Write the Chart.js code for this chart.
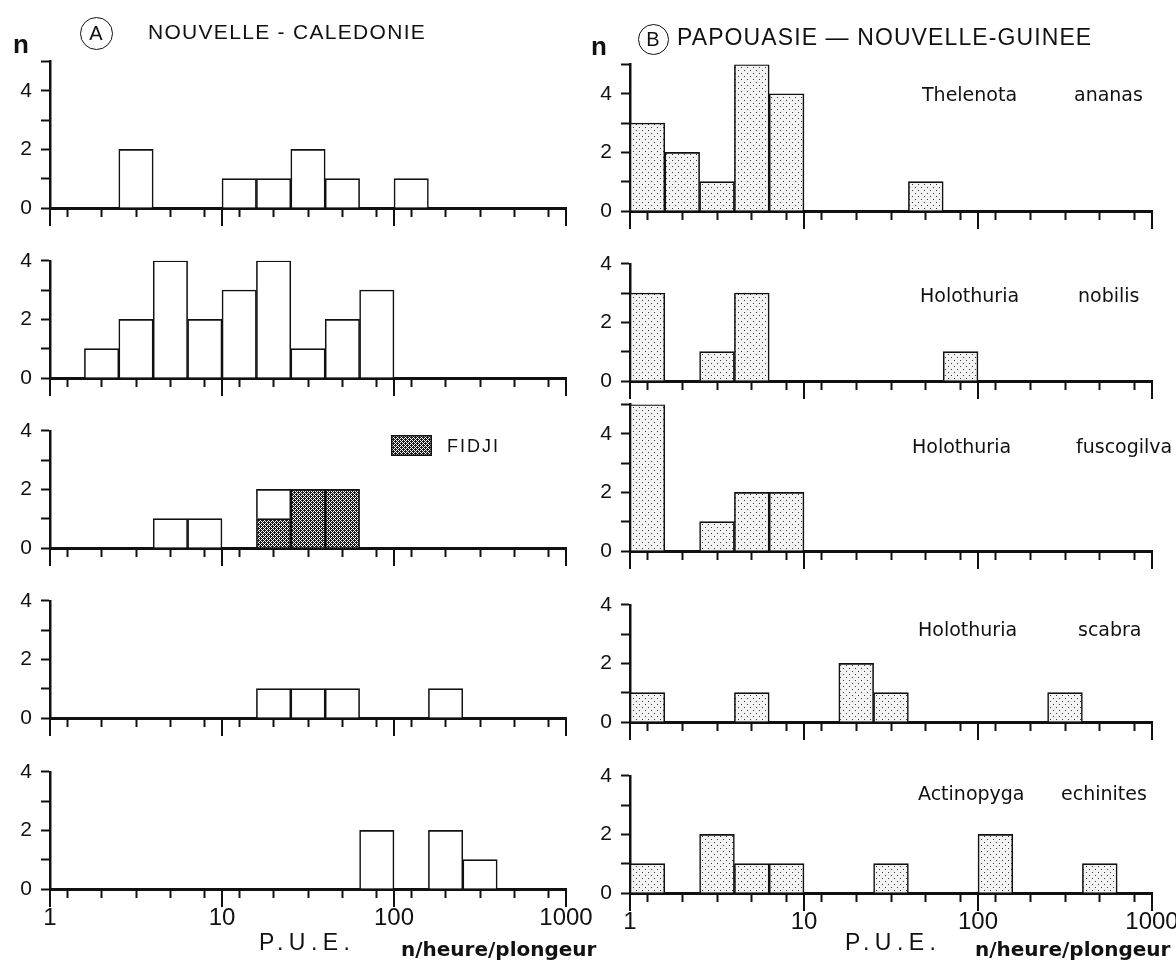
<!DOCTYPE html>
<html>
<head>
<meta charset="utf-8">
<script src="https://cdn.jsdelivr.net/npm/chart.js@4.4.1/dist/chart.umd.min.js"></script>
<style>
  html, body { margin: 0; padding: 0; background: #fff; }
  body { position: relative; width: 1176px; height: 960px; overflow: hidden;
         font-family: 'Liberation Sans', 'DejaVu Sans', sans-serif; color: #111; }
  canvas { position: absolute; }
  .t { position: absolute; white-space: nowrap; line-height: 1; }
  .n { font-weight: bold; font-size: 26px; }
  .circ { position: absolute; border: 1.6px solid #111; border-radius: 50%;
          display: flex; align-items: center; justify-content: center; font-size: 20px; box-sizing: border-box; }
  .titleA { font-size: 21px; letter-spacing: 1.3px; }
  .titleB { font-size: 23px; letter-spacing: 1.1px; }
  .sp { font-family: 'DejaVu Sans', sans-serif; font-size: 19px; }
  .pue { font-size: 23px; letter-spacing: 5.5px; }
  .unit { font-family: 'DejaVu Sans', sans-serif; font-size: 20px; font-weight: bold; }
  .fidji { font-size: 18px; letter-spacing: 2px; }
</style>
</head>
<body>
<script>
// Catch per unit effort classes: five classes per decade, log10 steps of 0.2
const binEdges = [1, 1.585, 2.512, 3.981, 6.310, 10, 15.85, 25.12, 39.81, 63.10,
                  100, 158.5, 251.2, 398.1, 631.0, 1000];
const decadeTicks = [1, 10, 100, 1000];
const countTicks = [0, 2, 4];

const speciesGenus   = ['Thelenota', 'Holothuria', 'Holothuria', 'Holothuria', 'Actinopyga'];
const speciesEpithet = ['ananas', 'nobilis', 'fuscogilva', 'scabra', 'echinites'];

// (A) Nouvelle-Calédonie: number of stations per P.U.E. class
const caledonieAnanas     = [0, 0, 2, 0, 0, 1, 1, 2, 1, 0, 1, 0, 0, 0, 0];
const caledonieNobilis    = [0, 1, 2, 4, 2, 3, 4, 1, 2, 3, 0, 0, 0, 0, 0];
const caledonieFuscogilva = [0, 0, 0, 1, 1, 0, 1, 0, 0, 0, 0, 0, 0, 0, 0];
const fidjiFuscogilva     = [0, 0, 0, 0, 0, 0, 1, 2, 2, 0, 0, 0, 0, 0, 0];
const caledonieScabra     = [0, 0, 0, 0, 0, 0, 1, 1, 1, 0, 0, 1, 0, 0, 0];
const caledonieEchinites  = [0, 0, 0, 0, 0, 0, 0, 0, 0, 2, 0, 2, 1, 0, 0];

// (B) Papouasie - Nouvelle-Guinée
const papouasieAnanas     = [3, 2, 1, 5, 4, 0, 0, 0, 1, 0, 0, 0, 0, 0, 0];
const papouasieNobilis    = [3, 0, 1, 3, 0, 0, 0, 0, 0, 1, 0, 0, 0, 0, 0];
const papouasieFuscogilva = [5, 0, 1, 2, 2, 0, 0, 0, 0, 0, 0, 0, 0, 0, 0];
const papouasieScabra     = [1, 0, 0, 1, 0, 0, 2, 1, 0, 0, 0, 0, 1, 0, 0];
const papouasieEchinites  = [1, 0, 2, 1, 1, 0, 0, 1, 0, 0, 2, 0, 0, 1, 0];

// ---------- layout ----------
const UNIT = 29.3;                 // pixels per station on the count axis
const ROW_ABOVE = 160;             // canvas space above the zero line
const ROW_BELOW = 44;              // canvas space below the zero line
const columns = [
  { left: 0,   width: 640, axisX: 50,  axisEnd: 566,  baselines: [208, 378, 548, 718, 889] },
  { left: 575, width: 640, axisX: 630, axisEnd: 1152, baselines: [211, 381, 551, 722, 893] }
];

Chart.defaults.font.family = "'Liberation Sans', 'DejaVu Sans', sans-serif";
Chart.defaults.color = '#111';

function makeTile(size, bg, fg, dots) {
  const c = document.createElement('canvas');
  c.width = size; c.height = size;
  const g = c.getContext('2d');
  g.fillStyle = bg; g.fillRect(0, 0, size, size);
  g.fillStyle = fg;
  dots.forEach(([x, y]) => g.fillRect(x, y, 1, 1));
  return g.createPattern(c, 'repeat');
}
const stipple = makeTile(6, '#f3f3f3', '#3a3a3a', [[1, 1], [4, 4]]);
const crossHatch = makeTile(4, '#1c1c1c', '#ffffff', [[0, 0], [1, 1], [2, 2], [3, 3], [1, 3], [3, 1]]);

const decadeTickPlugin = {
  id: 'decadeTicks',
  afterDraw(chart) {
    const s = chart.scales.x, ctx = chart.ctx;
    ctx.save();
    ctx.strokeStyle = '#111';
    ctx.lineWidth = 2;
    decadeTicks.forEach(v => {
      const px = s.getPixelForValue(v);
      ctx.beginPath();
      ctx.moveTo(px, s.top);
      ctx.lineTo(px, s.top + 18);
      ctx.stroke();
    });
    ctx.restore();
  }
};

const binCenters = binEdges.slice(0, -1).map((e, i) => Math.sqrt(e * binEdges[i + 1]));

function makePanel(col, row, series, yMax, showXLabels) {
  const baseline = col.baselines[row];
  const canvas = document.createElement('canvas');
  canvas.width = col.width;
  canvas.height = ROW_ABOVE + ROW_BELOW;
  canvas.style.left = col.left + 'px';
  canvas.style.top = (baseline - ROW_ABOVE) + 'px';
  document.body.appendChild(canvas);

  new Chart(canvas, {
    type: 'bar',
    data: {
      datasets: series.map(s => ({
        label: s.label,
        data: s.counts.map((c, i) => ({ x: binCenters[i], y: c })),
        backgroundColor: s.fill,
        borderColor: '#111',
        borderWidth: 1.6,
        stack: 'n',
        barPercentage: 1,
        categoryPercentage: 1
      }))
    },
    options: {
      responsive: false,
      animation: false,
      devicePixelRatio: 1,
      layout: {
        autoPadding: false,
        padding: { left: 0, top: ROW_ABOVE - yMax * UNIT, right: col.left + col.width - col.axisEnd, bottom: 0 }
      },
      plugins: { legend: { display: false }, tooltip: { enabled: false } },
      scales: {
        x: {
          type: 'logarithmic', min: 1, max: 1000, z: 1,
          afterBuildTicks: s => { s.ticks = binEdges.map(v => ({ value: v, major: decadeTicks.includes(v) })); },
          afterFit: s => { s.height = ROW_BELOW; s.paddingLeft = 0; s.paddingRight = 0; },
          ticks: {
            autoSkip: false, maxRotation: 0, minRotation: 0, padding: 6,
            font: { size: 24 }, color: '#111',
            callback: v => (showXLabels && decadeTicks.includes(v)) ? String(v) : ''
          },
          grid: { drawOnChartArea: false, tickLength: 9, tickWidth: 2, tickColor: '#111' },
          border: { color: '#111', width: 3 }
        },
        y: {
          min: 0, max: yMax, stacked: true,
          afterFit: s => { s.width = col.axisX - col.left; s.paddingTop = 0; s.paddingBottom = 0; },
          ticks: {
            stepSize: 1, padding: 9, font: { size: 21 }, color: '#111',
            callback: v => countTicks.includes(v) ? String(v) : ''
          },
          grid: { drawOnChartArea: false, tickLength: 9, tickWidth: 2, tickColor: '#111' },
          border: { color: '#111', width: 2.5 }
        }
      }
    },
    plugins: [decadeTickPlugin]
  });
}

const leftSeries = [
  [{ label: 'Nouvelle-Calédonie', counts: caledonieAnanas, fill: '#fff' }],
  [{ label: 'Nouvelle-Calédonie', counts: caledonieNobilis, fill: '#fff' }],
  [{ label: 'Fidji', counts: fidjiFuscogilva, fill: crossHatch },
   { label: 'Nouvelle-Calédonie', counts: caledonieFuscogilva, fill: '#fff' }],
  [{ label: 'Nouvelle-Calédonie', counts: caledonieScabra, fill: '#fff' }],
  [{ label: 'Nouvelle-Calédonie', counts: caledonieEchinites, fill: '#fff' }]
];
const rightSeries = [
  [{ label: 'Papouasie', counts: papouasieAnanas, fill: stipple }],
  [{ label: 'Papouasie', counts: papouasieNobilis, fill: stipple }],
  [{ label: 'Papouasie', counts: papouasieFuscogilva, fill: stipple }],
  [{ label: 'Papouasie', counts: papouasieScabra, fill: stipple }],
  [{ label: 'Papouasie', counts: papouasieEchinites, fill: stipple }]
];
const leftTop = [5, 4, 4, 4, 4];
const rightTop = [5, 4, 5, 4, 4];

for (let r = 0; r < 5; r++) {
  makePanel(columns[0], r, leftSeries[r], leftTop[r], r === 4);
  makePanel(columns[1], r, rightSeries[r], rightTop[r], r === 4);
}

// ---------- text ----------
function addText(html, cls, left, top, extra) {
  const d = document.createElement('div');
  d.className = 't ' + cls;
  d.innerHTML = html;
  d.style.left = left + 'px';
  d.style.top = top + 'px';
  if (extra) Object.assign(d.style, extra);
  document.body.appendChild(d);
  return d;
}
function addCircle(letter, cx, cy, d) {
  const c = document.createElement('div');
  c.className = 'circ';
  c.textContent = letter;
  Object.assign(c.style, { left: (cx - d / 2) + 'px', top: (cy - d / 2) + 'px', width: d + 'px', height: d + 'px' });
  document.body.appendChild(c);
}

addText('n', 'n', 13, 31);
addText('n', 'n', 591, 33);
addCircle('A', 96, 33, 33);
addCircle('B', 653, 39, 31);
addText('NOUVELLE - CALEDONIE', 'titleA', 148, 21);
addText('PAPOUASIE — NOUVELLE-GUINEE', 'titleB', 677, 26);

const speciesTop = [85, 286, 437, 620, 784];
const genusLeft = [922, 920, 912, 918, 918];
const epithetLeft = [1074, 1078, 1076, 1078, 1061];
speciesGenus.forEach((g, i) => {
  addText(g, 'sp', genusLeft[i], speciesTop[i]);
  addText(speciesEpithet[i], 'sp', epithetLeft[i], speciesTop[i]);
});

// FIDJI key
const key = document.createElement('canvas');
key.width = 41; key.height = 21;
Object.assign(key.style, { left: '391px', top: '435px' });
const kg = key.getContext('2d');
kg.fillStyle = crossHatch; kg.fillRect(0, 0, 41, 21);
kg.strokeStyle = '#111'; kg.lineWidth = 1.5; kg.strokeRect(0.75, 0.75, 39.5, 19.5);
document.body.appendChild(key);
addText('FIDJI', 'fidji', 447, 437);

addText('P.U.E.', 'pue', 259, 931);
addText('n/heure/plongeur', 'unit', 401, 939);
addText('P.U.E.', 'pue', 845, 931);
addText('n/heure/plongeur', 'unit', 975, 939);
</script>
</body>
</html>
